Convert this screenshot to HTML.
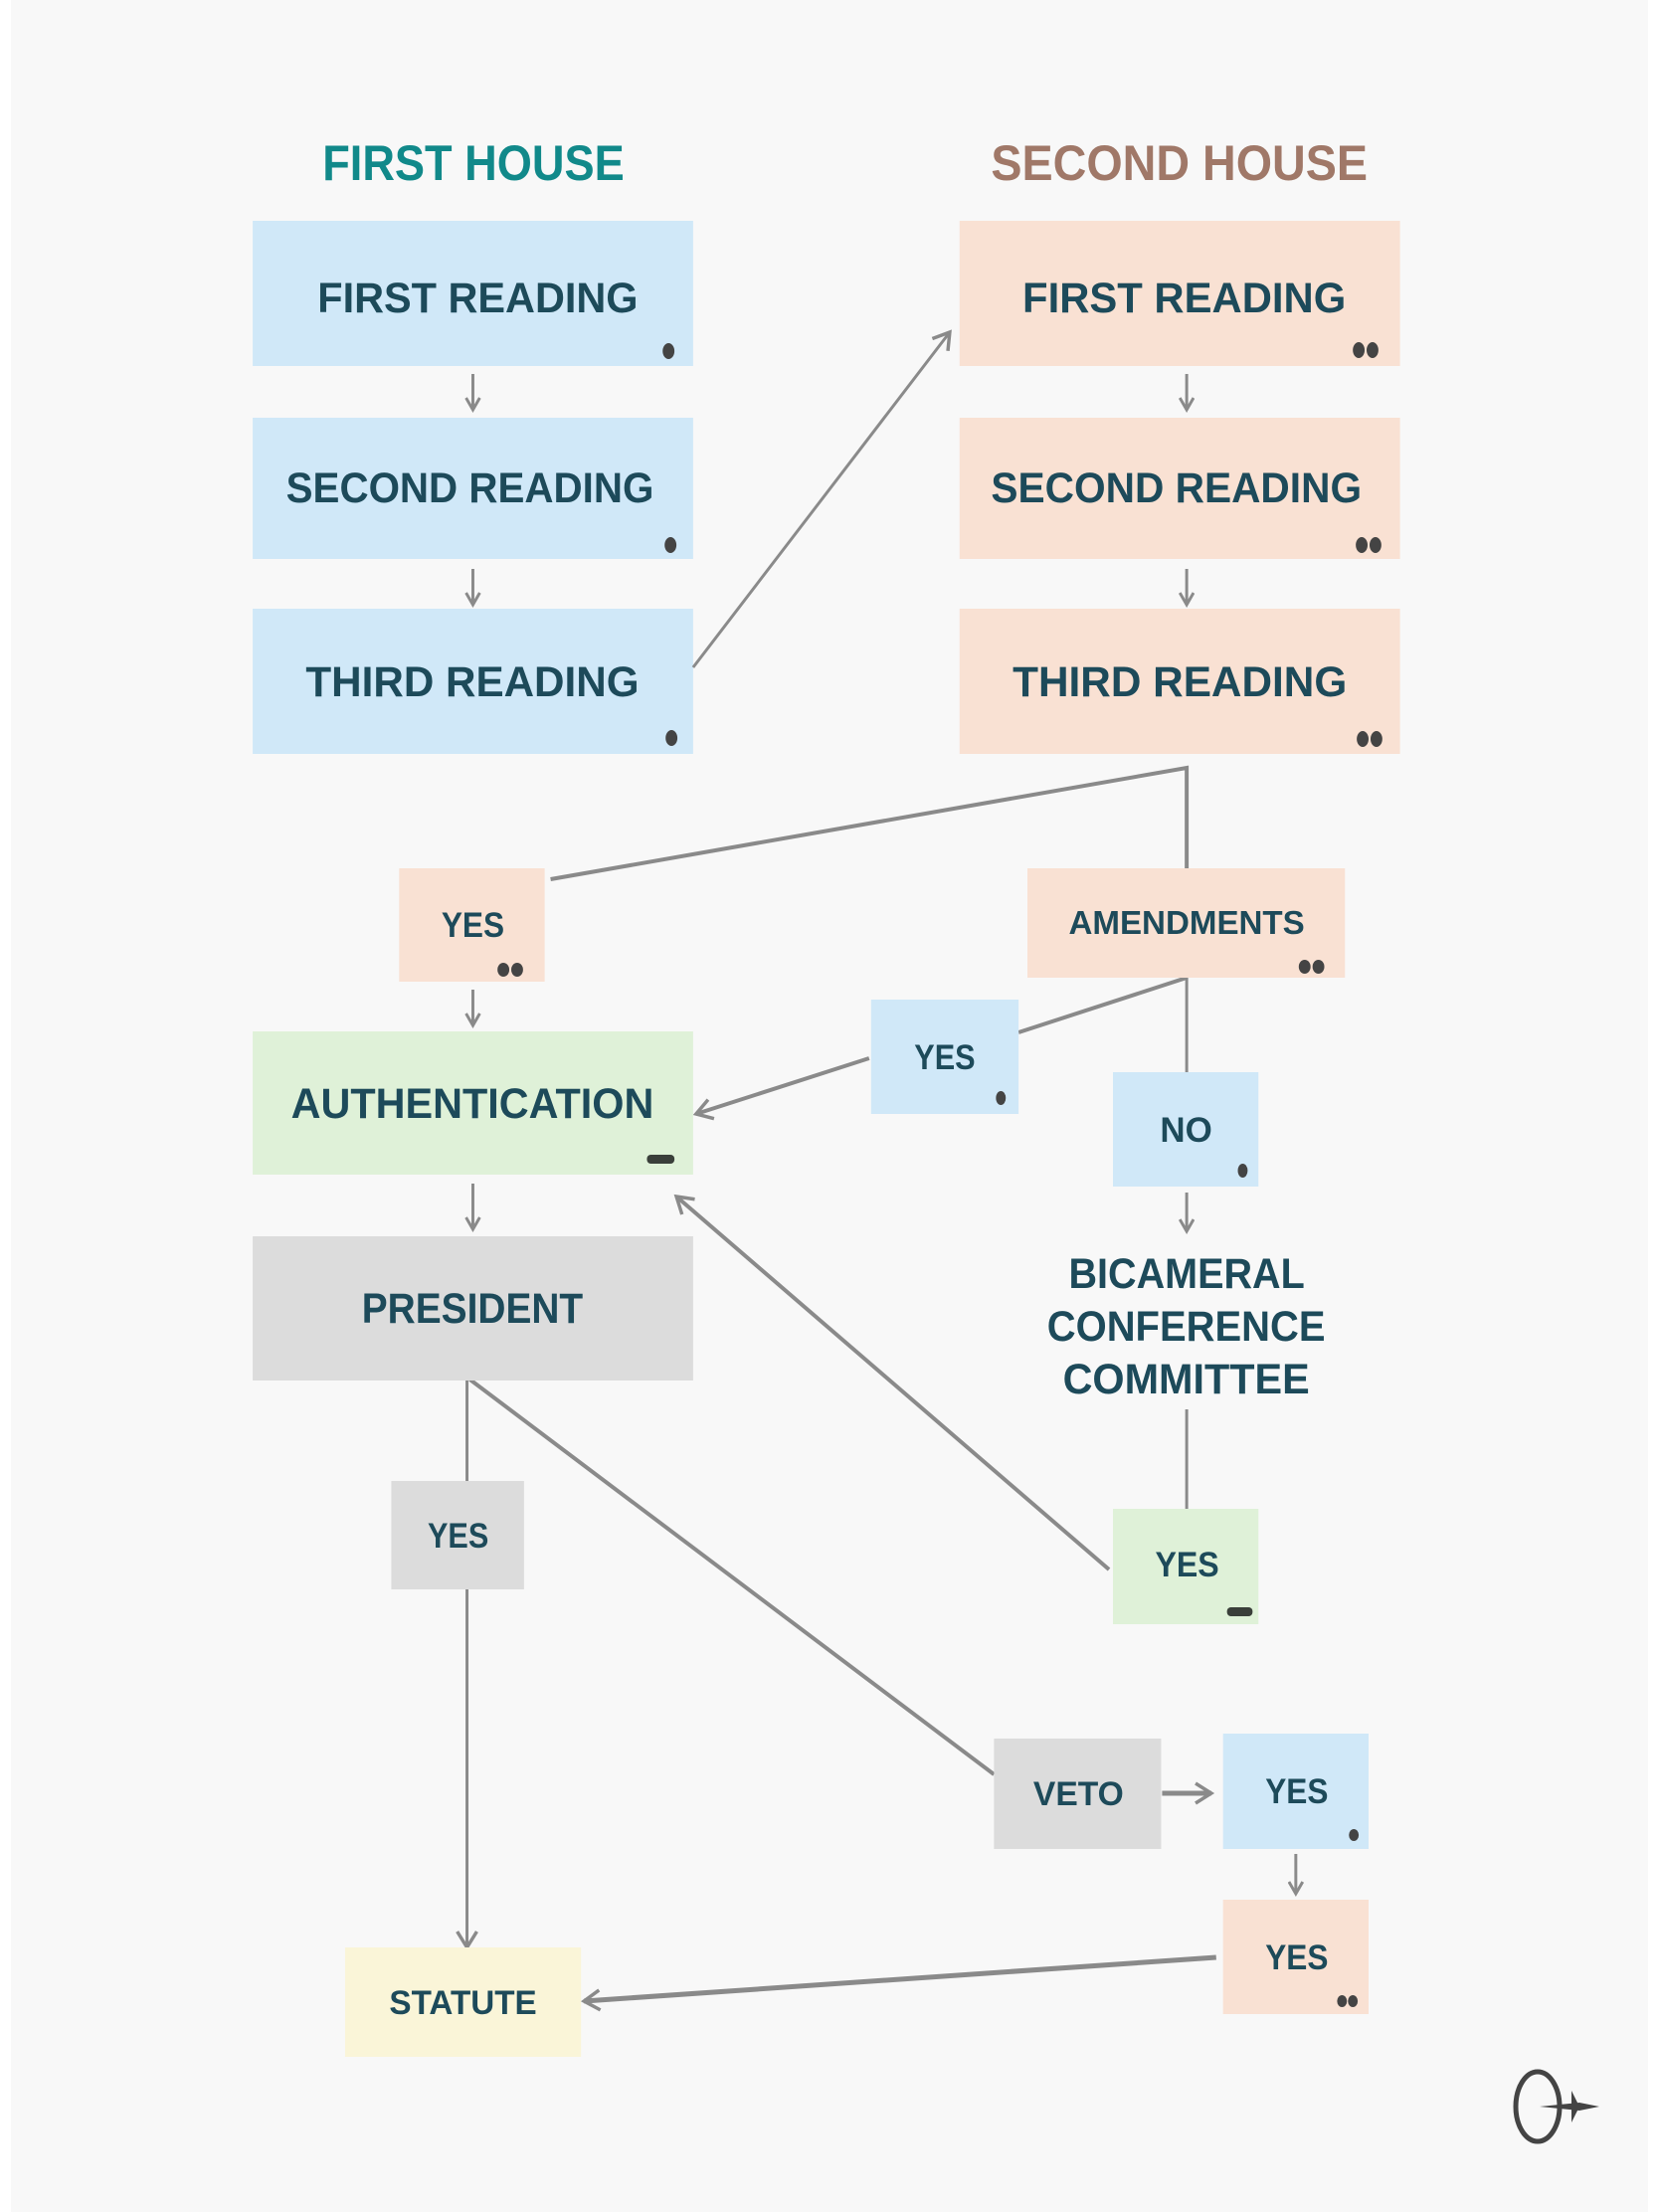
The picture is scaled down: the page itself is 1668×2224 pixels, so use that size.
<!DOCTYPE html>
<html><head><meta charset="utf-8"><style>
html,body{margin:0;padding:0;background:#fff;}
svg{display:block;}
text{font-family:"Liberation Sans",sans-serif;font-weight:bold;fill:#1d4a5a;}
</style></head><body>
<svg width="1668" height="2224" viewBox="0 0 1668 2224" xmlns="http://www.w3.org/2000/svg">
<defs>
<marker id="ah" markerWidth="16" markerHeight="16" refX="13" refY="8" orient="auto" markerUnits="userSpaceOnUse" viewBox="0 0 16 16">
<path d="M1,1 L13,8 L1,15" fill="none" stroke="#8a8a8a" stroke-width="3"/>
</marker>
<marker id="ah2" markerWidth="24" markerHeight="24" refX="20" refY="12" orient="auto" markerUnits="userSpaceOnUse" viewBox="0 0 24 24">
<path d="M4,2 L20,12 L4,22" fill="none" stroke="#8a8a8a" stroke-width="3.5"/>
</marker>
</defs>
<rect x="11" y="0" width="1646" height="2224" fill="#f8f8f8"/>
<g transform="scale(0.9885,1)">
<text x="328" y="181" font-size="50" textLength="307" lengthAdjust="spacingAndGlyphs" style="fill:#11898a">FIRST HOUSE</text>
<text x="1008" y="181" font-size="50" textLength="383" lengthAdjust="spacingAndGlyphs" style="fill:#a07868">SECOND HOUSE</text>

<rect x="257" y="222" width="448" height="146" fill="#d0e8f8"/>
<rect x="257" y="420" width="448" height="142" fill="#d0e8f8"/>
<rect x="257" y="612" width="448" height="146" fill="#d0e8f8"/>
<text x="323" y="314" font-size="43" textLength="326" lengthAdjust="spacingAndGlyphs">FIRST READING</text>
<text x="291" y="505" font-size="43" textLength="374" lengthAdjust="spacingAndGlyphs">SECOND READING</text>
<text x="311" y="700" font-size="43" textLength="339" lengthAdjust="spacingAndGlyphs">THIRD READING</text>
<ellipse cx="680" cy="353" rx="6" ry="8" fill="#444"/>
<ellipse cx="682" cy="548" rx="6" ry="8" fill="#444"/>
<ellipse cx="683" cy="742" rx="6" ry="8" fill="#444"/>

<rect x="976" y="222" width="448" height="146" fill="#f9e1d3"/>
<rect x="976" y="420" width="448" height="142" fill="#f9e1d3"/>
<rect x="976" y="612" width="448" height="146" fill="#f9e1d3"/>
<text x="1040" y="314" font-size="43" textLength="329" lengthAdjust="spacingAndGlyphs">FIRST READING</text>
<text x="1008" y="505" font-size="43" textLength="377" lengthAdjust="spacingAndGlyphs">SECOND READING</text>
<text x="1030" y="700" font-size="43" textLength="340" lengthAdjust="spacingAndGlyphs">THIRD READING</text>
<g fill="#444">
<ellipse cx="1382" cy="352" rx="6" ry="8"/><ellipse cx="1396" cy="352" rx="6" ry="8"/>
<ellipse cx="1385" cy="548" rx="6" ry="8"/><ellipse cx="1399" cy="548" rx="6" ry="8"/>
<ellipse cx="1386" cy="743" rx="6" ry="8"/><ellipse cx="1400" cy="743" rx="6" ry="8"/>
</g>

<g stroke="#8a8a8a" stroke-width="3" fill="none">
<line x1="481" y1="376" x2="481" y2="412" marker-end="url(#ah)"/>
<line x1="481" y1="572" x2="481" y2="608" marker-end="url(#ah)"/>
<line x1="1207" y1="376" x2="1207" y2="412" marker-end="url(#ah)"/>
<line x1="1207" y1="572" x2="1207" y2="608" marker-end="url(#ah)"/>
<line x1="705" y1="671" x2="966" y2="334" marker-end="url(#ah2)"/>
<polyline points="560,884 1207,772 1207,873" stroke-width="4"/>
<line x1="481" y1="995" x2="481" y2="1031" marker-end="url(#ah)"/>
<line x1="1207" y1="983" x2="1207" y2="1078"/>
<polyline points="1207,983 1036,1038" stroke-width="4"/>
<line x1="884" y1="1064" x2="708" y2="1120" stroke-width="4" marker-end="url(#ah2)"/>
<line x1="1207" y1="1199" x2="1207" y2="1238" marker-end="url(#ah)"/>
<line x1="481" y1="1190" x2="481" y2="1236" marker-end="url(#ah)"/>
<line x1="1207" y1="1417" x2="1207" y2="1517"/>
<line x1="1128" y1="1578" x2="688" y2="1203" stroke-width="4" marker-end="url(#ah2)"/>
<line x1="475" y1="1388" x2="475" y2="1489"/>
<line x1="475" y1="1598" x2="475" y2="1958" marker-end="url(#ah2)"/>
<line x1="478" y1="1387" x2="1011" y2="1784" stroke-width="4"/>
<line x1="1182" y1="1803" x2="1232" y2="1803" stroke-width="5" marker-end="url(#ah2)"/>
<line x1="1318" y1="1864" x2="1318" y2="1904" marker-end="url(#ah)"/>
<line x1="1237" y1="1968" x2="594" y2="2012" stroke-width="5" marker-end="url(#ah2)"/>
</g>

<rect x="406" y="873" width="148" height="114" fill="#f9e1d3"/>
<text x="449" y="942" font-size="35" textLength="64" lengthAdjust="spacingAndGlyphs">YES</text>
<ellipse cx="512" cy="975" rx="6" ry="7" fill="#444"/><ellipse cx="526" cy="975" rx="6" ry="7" fill="#444"/>

<rect x="1045" y="873" width="323" height="110" fill="#f9e1d3"/>
<text x="1087" y="939" font-size="33" textLength="240" lengthAdjust="spacingAndGlyphs">AMENDMENTS</text>
<ellipse cx="1327" cy="972" rx="6" ry="7" fill="#444"/><ellipse cx="1341" cy="972" rx="6" ry="7" fill="#444"/>

<rect x="886" y="1005" width="150" height="115" fill="#d0e8f8"/>
<text x="930" y="1075" font-size="35" textLength="62" lengthAdjust="spacingAndGlyphs">YES</text>
<ellipse cx="1018" cy="1104" rx="5" ry="7" fill="#444"/>

<rect x="257" y="1037" width="448" height="144" fill="#dff1d8"/>
<text x="296" y="1124" font-size="43" textLength="369" lengthAdjust="spacingAndGlyphs">AUTHENTICATION</text>
<rect x="658" y="1161" width="28" height="9" rx="4" fill="#3a3f3a"/>

<rect x="1132" y="1078" width="148" height="115" fill="#d0e8f8"/>
<text x="1180" y="1148" font-size="35" textLength="53" lengthAdjust="spacingAndGlyphs">NO</text>
<ellipse cx="1264" cy="1177" rx="5" ry="7" fill="#444"/>

<text x="1087" y="1295" font-size="43" textLength="240" lengthAdjust="spacingAndGlyphs">BICAMERAL</text>
<text x="1065" y="1348" font-size="43" textLength="283" lengthAdjust="spacingAndGlyphs">CONFERENCE</text>
<text x="1081" y="1401" font-size="43" textLength="251" lengthAdjust="spacingAndGlyphs">COMMITTEE</text>

<rect x="257" y="1243" width="448" height="145" fill="#dcdcdc"/>
<text x="368" y="1330" font-size="43" textLength="225" lengthAdjust="spacingAndGlyphs">PRESIDENT</text>

<rect x="398" y="1489" width="135" height="109" fill="#dcdcdc"/>
<text x="435" y="1556" font-size="35" textLength="62" lengthAdjust="spacingAndGlyphs">YES</text>

<rect x="1132" y="1517" width="148" height="116" fill="#dff1d8"/>
<text x="1175" y="1585" font-size="35" textLength="65" lengthAdjust="spacingAndGlyphs">YES</text>
<rect x="1248" y="1616" width="26" height="9" rx="4" fill="#3a3f3a"/>

<rect x="1011" y="1748" width="170" height="111" fill="#dcdcdc"/>
<text x="1051" y="1815" font-size="34" textLength="92" lengthAdjust="spacingAndGlyphs">VETO</text>

<rect x="1244" y="1743" width="148" height="116" fill="#d0e8f8"/>
<text x="1287" y="1813" font-size="35" textLength="64" lengthAdjust="spacingAndGlyphs">YES</text>
<ellipse cx="1377" cy="1845" rx="5" ry="6" fill="#444"/>

<rect x="1244" y="1910" width="148" height="115" fill="#f9e1d3"/>
<text x="1287" y="1980" font-size="35" textLength="64" lengthAdjust="spacingAndGlyphs">YES</text>
<ellipse cx="1365" cy="2012" rx="5" ry="6" fill="#444"/><ellipse cx="1376" cy="2012" rx="5" ry="6" fill="#444"/>

<rect x="351" y="1958" width="240" height="110" fill="#faf5d8"/>
<text x="396" y="2025" font-size="34" textLength="150" lengthAdjust="spacingAndGlyphs">STATUTE</text>
</g>

<ellipse cx="1546" cy="2118" rx="22" ry="35" fill="none" stroke="#444" stroke-width="5"/>
<path d="M1548,2118 L1588,2114 L1608,2118 L1588,2122 Z M1580,2102 L1588,2118 L1580,2134 Z" fill="#444"/>
</svg>
</body></html>
